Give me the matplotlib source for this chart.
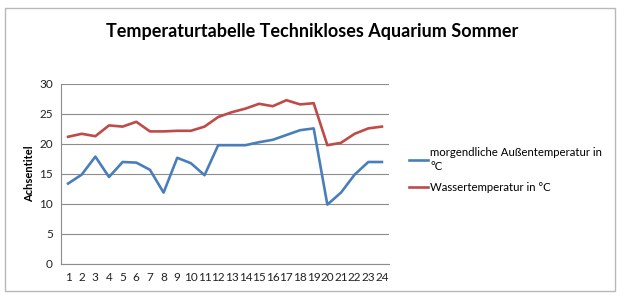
import matplotlib.pyplot as plt
from matplotlib.patches import Rectangle

stunden = list(range(1, 25))
aussen = [13.4, 14.9, 17.9, 14.5, 17.0, 16.9, 15.7, 11.9, 17.7, 16.8, 14.8,
          19.8, 19.8, 19.8, 20.3, 20.7, 21.5, 22.3, 22.6, 9.9, 11.9, 14.9, 17.0, 17.0]
wasser = [21.2, 21.7, 21.3, 23.1, 22.9, 23.7, 22.1, 22.1, 22.2, 22.2, 22.9,
          24.5, 25.3, 25.9, 26.7, 26.3, 27.3, 26.6, 26.8, 19.8, 20.2, 21.7, 22.6, 22.9]

plt.rcParams['font.family'] = ['Lato', 'DejaVu Sans']

fig = plt.figure(figsize=(6.25, 3.0), dpi=100)
fig.patches.append(Rectangle((0.008, 0.03), 0.976, 0.945, transform=fig.transFigure,
                             fill=False, edgecolor='#b8b8b8', linewidth=1.0))

ax = fig.add_axes([0.098, 0.12, 0.524, 0.60])
l1, = ax.plot(stunden, aussen, color='#4A7EBB', lw=1.9,
              label='morgendliche Außentemperatur in\n°C')
l2, = ax.plot(stunden, wasser, color='#BE4B48', lw=1.9,
              label='Wassertemperatur in °C')

ax.set_xlim(0.5, 24.5)
ax.set_ylim(0, 30)
ax.set_yticks(range(0, 31, 5))
ax.set_xticks(stunden)
ax.grid(axis='y', color='#8c8c8c', linewidth=0.8)
ax.set_axisbelow(True)
for s in ['top', 'right']:
    ax.spines[s].set_visible(False)
for s in ['left', 'bottom']:
    ax.spines[s].set_color('#8c8c8c')
ax.tick_params(length=0, labelsize=8.5, colors='#222222', pad=6)
ax.set_ylabel('Achsentitel', fontsize=8, fontweight='bold', labelpad=3)

fig.text(0.5, 0.895, 'Temperaturtabelle Technikloses Aquarium Sommer',
         ha='center', va='center', fontsize=13, fontweight='bold')

leg = fig.legend(handles=[l1, l2], loc='upper left', bbox_to_anchor=(0.638, 0.545),
                 frameon=False, fontsize=8.2, handlelength=1.7, handletextpad=0.15,
                 labelspacing=0.9)
for t in leg.get_texts():
    t.set_linespacing(1.35)

fig.savefig('out.png', dpi=100)
